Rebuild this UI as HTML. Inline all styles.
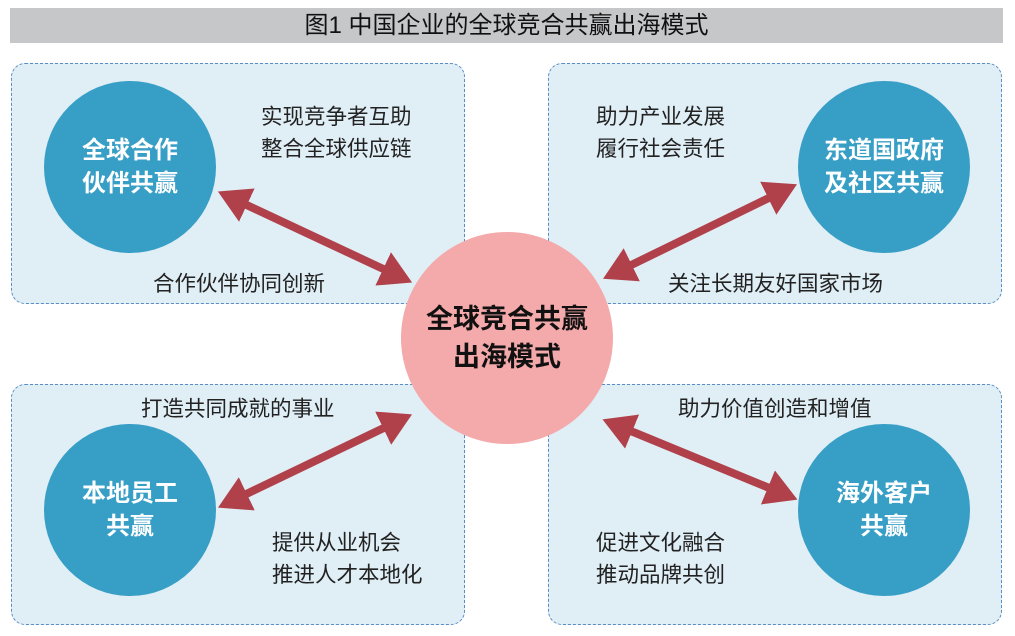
<!DOCTYPE html>
<html><head><meta charset="utf-8"><style>
body{margin:0;width:1015px;height:636px;background:#fff;position:relative;overflow:hidden;font-family:"Liberation Sans","Noto Sans CJK SC",sans-serif}
.title{position:absolute;left:10px;top:8px;width:993px;height:35px;background:#c6c7c9;text-align:center;font-size:24px;line-height:35px;color:#111}
.panel{position:absolute;width:454px;height:241px;background:#e0eef6;border:1px dashed #5b8cc4;border-radius:14px;box-sizing:border-box}
.c{position:absolute;width:172px;height:172px;border-radius:50%;background:#379ec6;color:#fff;font-weight:bold;font-size:24px;line-height:33px;display:flex;align-items:center;justify-content:center;text-align:center}
.t{position:absolute;font-size:21.5px;line-height:32px;color:#222;white-space:nowrap}
.center{position:absolute;left:401px;top:232px;width:212px;height:212px;border-radius:50%;background:#f4a9ab;display:flex;align-items:center;justify-content:center;text-align:center;font-weight:bold;font-size:27px;line-height:38px;color:#111}
svg{position:absolute;left:0;top:0}
</style></head><body>
<div class="title">图1 中国企业的全球竞合共赢出海模式</div>
<div class="panel" style="left:11px;top:63px"></div>
<div class="panel" style="left:548px;top:63px"></div>
<div class="panel" style="left:11px;top:384px"></div>
<div class="panel" style="left:548px;top:384px"></div>
<div class="c" style="left:44px;top:81px">全球合作<br>伙伴共赢</div>
<div class="c" style="left:798px;top:81px">东道国政府<br>及社区共赢</div>
<div class="c" style="left:44px;top:424px">本地员工<br>共赢</div>
<div class="c" style="left:798px;top:424px">海外客户<br>共赢</div>
<div class="center">全球竞合共赢<br>出海模式</div>
<div class="t" style="left:261px;top:101px">实现竞争者互助<br>整合全球供应链</div>
<div class="t" style="left:153px;top:268px">合作伙伴协同创新</div>
<div class="t" style="left:596px;top:101px">助力产业发展<br>履行社会责任</div>
<div class="t" style="left:668px;top:268px">关注长期友好国家市场</div>
<div class="t" style="left:141px;top:393px">打造共同成就的事业</div>
<div class="t" style="left:272px;top:527px">提供从业机会<br>推进人才本地化</div>
<div class="t" style="left:678px;top:393px">助力价值创造和增值</div>
<div class="t" style="left:596px;top:527px">促进文化融合<br>推动品牌共创</div>
<svg width="1015" height="636">
<defs><marker id="a" markerWidth="4" markerHeight="4.6" refX="1.5" refY="2.3" orient="auto-start-reverse" markerUnits="strokeWidth"><path d="M0,0 L4,2.3 L0,4.6 z" fill="#b0414a"/></marker></defs>
<g stroke="#b0414a" stroke-width="8" fill="none">
<line x1="236" y1="200" x2="394" y2="274" marker-start="url(#a)" marker-end="url(#a)"/>
<line x1="621" y1="270" x2="779" y2="193" marker-start="url(#a)" marker-end="url(#a)"/>
<line x1="236" y1="499" x2="394" y2="423" marker-start="url(#a)" marker-end="url(#a)"/>
<line x1="621" y1="427" x2="779" y2="492" marker-start="url(#a)" marker-end="url(#a)"/>
</g></svg>
</body></html>
